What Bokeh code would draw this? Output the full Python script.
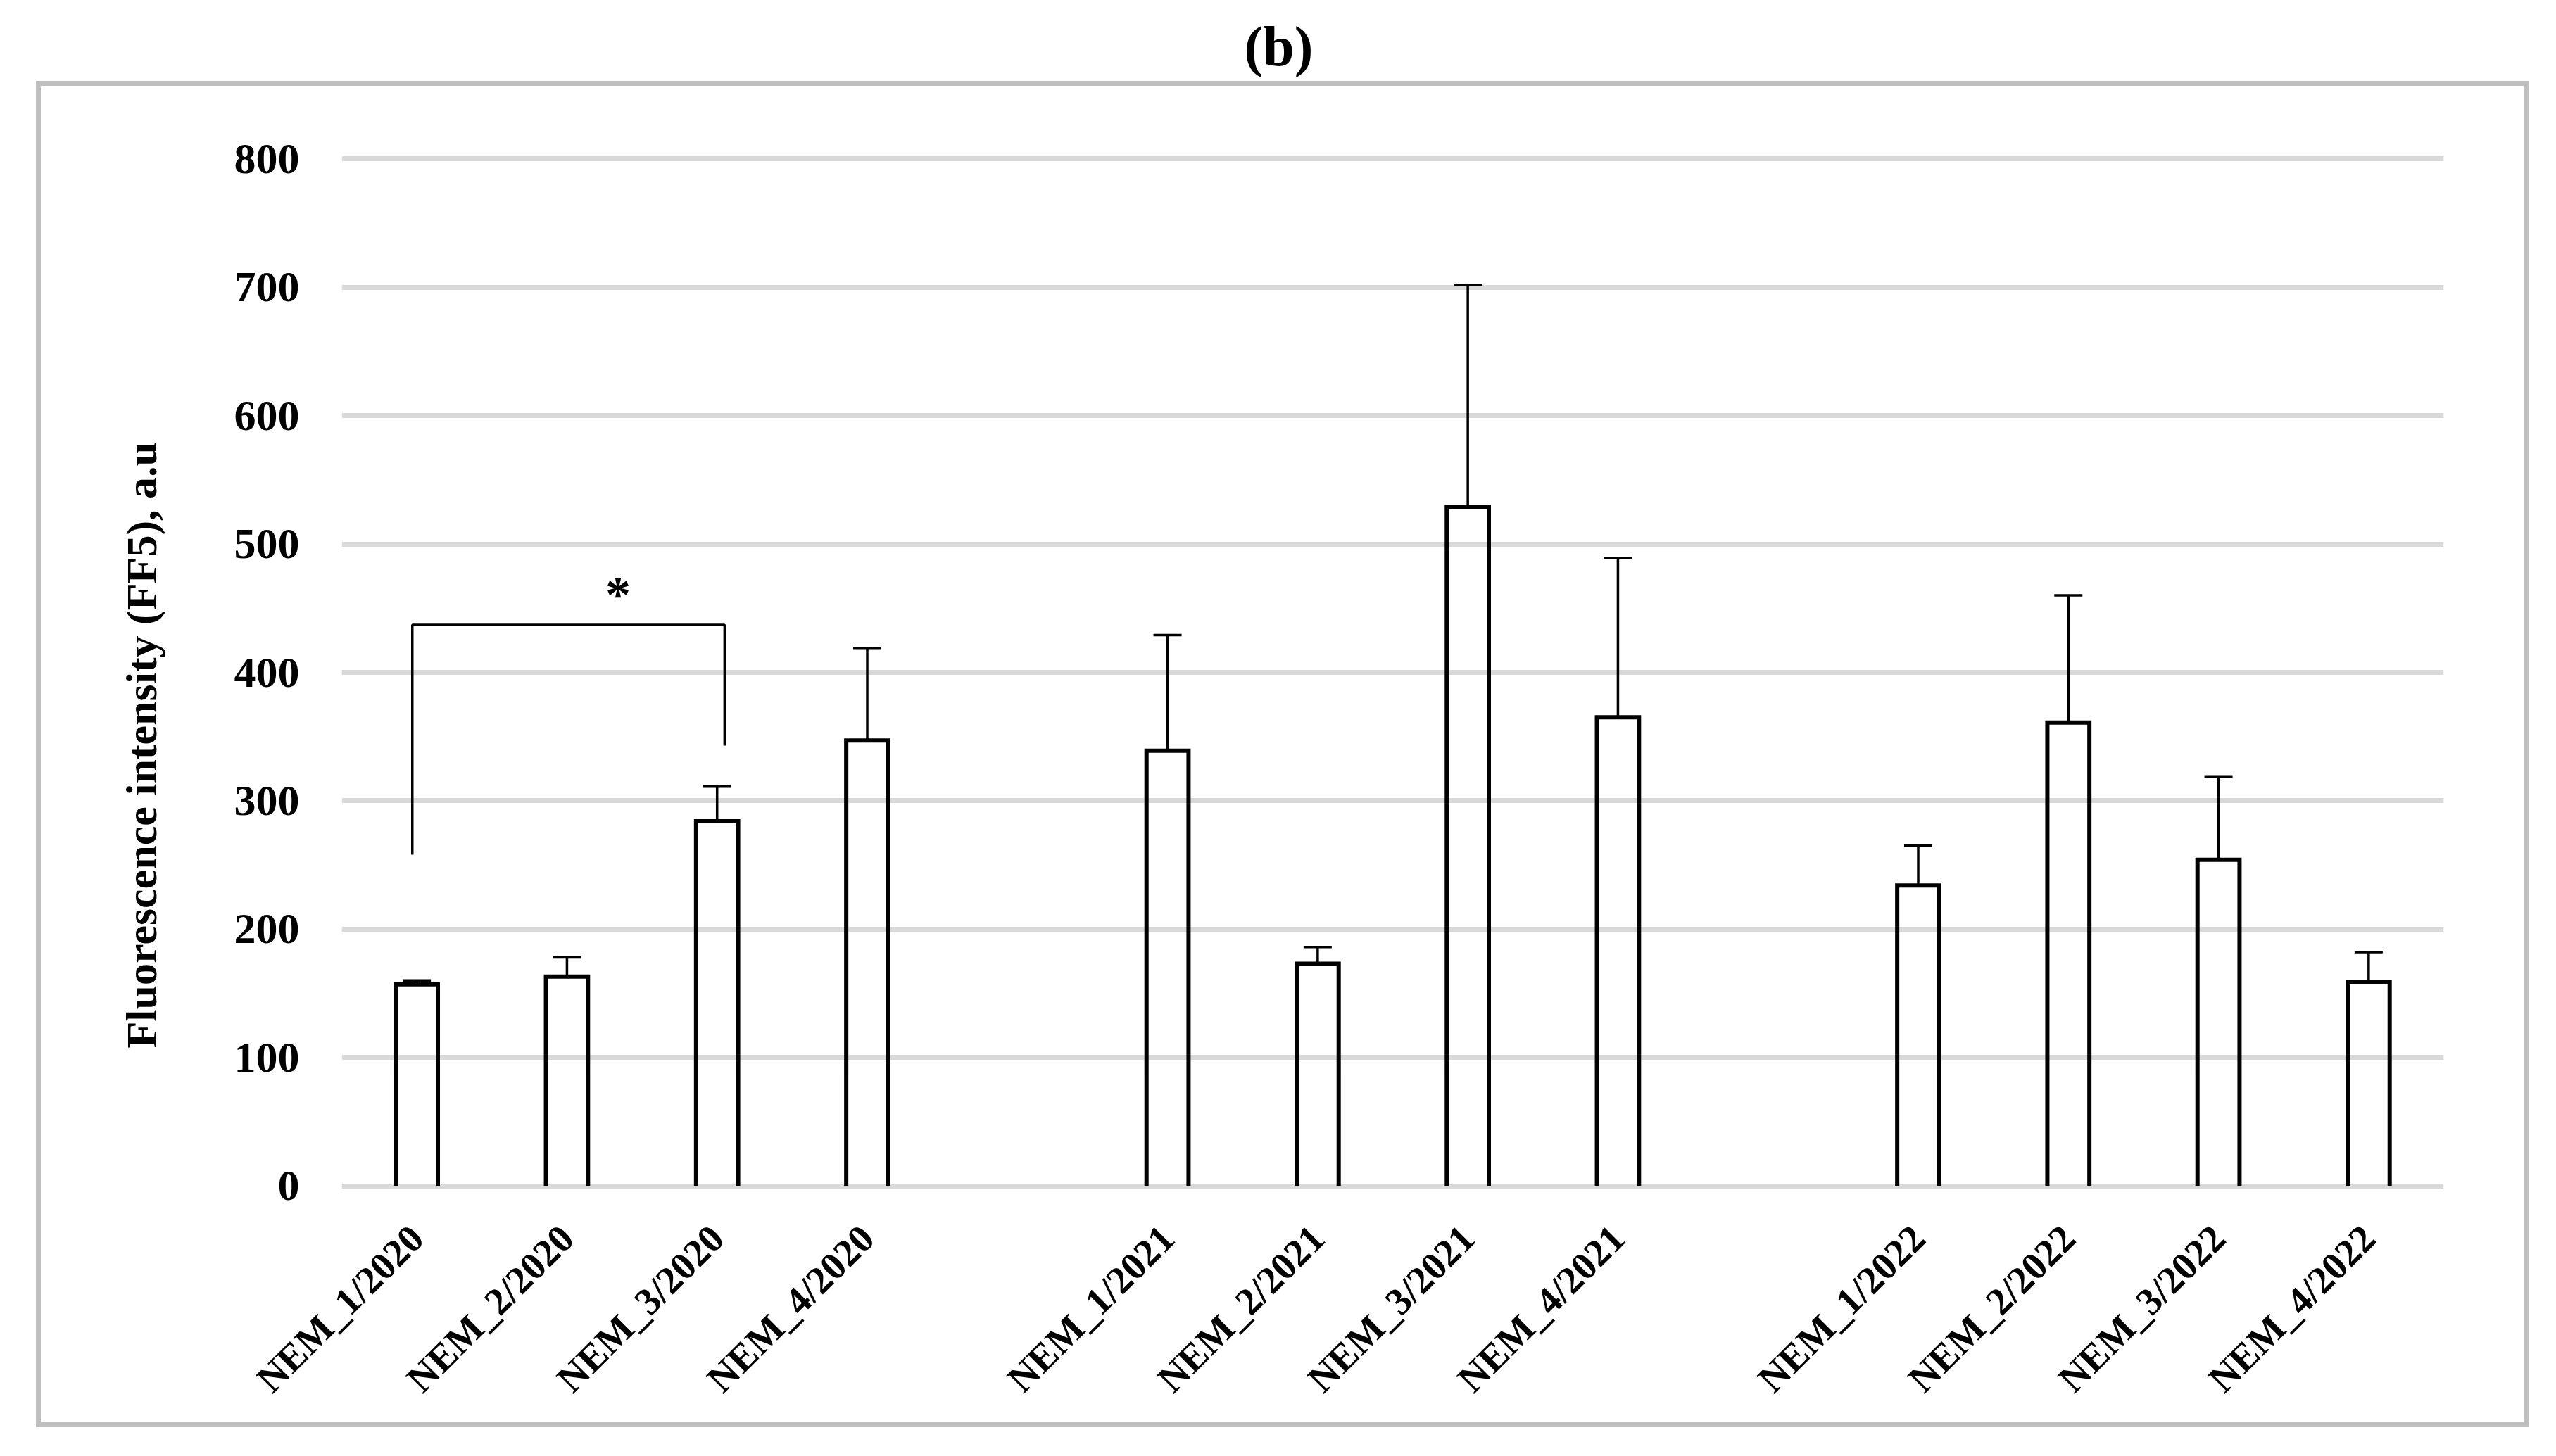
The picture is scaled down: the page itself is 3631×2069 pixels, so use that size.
import math
from bokeh.plotting import figure
from bokeh.models import (Range1d, FixedTicker, Whisker, TeeHead, ColumnDataSource, Title)
from bokeh.core.properties import value
from bokeh.embed import file_html
from bokeh.resources import INLINE

# ---------------- data ----------------
categories = ["NEM_1/2020", "NEM_2/2020", "NEM_3/2020", "NEM_4/2020",
              "NEM_1/2021", "NEM_2/2021", "NEM_3/2021", "NEM_4/2021",
              "NEM_1/2022", "NEM_2/2022", "NEM_3/2022", "NEM_4/2022"]
group_of = [0, 0, 0, 0, 1, 1, 1, 1, 2, 2, 2, 2]
means = [157, 163, 284, 347, 339, 173, 529, 365, 234, 361, 254, 159]
sds = [3, 15, 27, 72, 90, 13, 173, 124, 31, 99, 65, 23]
y_ticks = [0, 100, 200, 300, 400, 500, 600, 700, 800]

# significance bracket between NEM_1/2020 and NEM_3/2020
bracket_pair = [0, 2]
bracket_left_foot = 258
bracket_top = 437
bracket_right_foot = 343
star_level = 465
star_text = "*"

title_text = "(b)"
y_title = "Fluorescence intensity (FF5), a.u"

# ---------------- layout ----------------
FONT = "Liberation Serif"
BAR_W = 0.28
slots = [i + g for i, g in enumerate(group_of)]   # one empty slot between years
n_slots = slots[-1] + 1

FL, FT, FW, FH = 485, 220, 2986, 1470          # frame left/top/width/height (px)
W, H = 3615, 2053
FB = FT + FH
p = figure(width=W, height=H,
           x_range=Range1d(-0.5, n_slots - 0.5), y_range=Range1d(-3, 803),
           output_backend="svg", toolbar_location=None,
           min_border_left=FL, min_border_right=W - FL - FW,
           min_border_top=FT, min_border_bottom=H - FT - FH)
p.background_fill_color = "white"
p.border_fill_color = None
p.outline_line_color = None

# outer chart-area border (light grey frame around everything but the title),
# painted as the page background behind the transparent canvas margins
bx, by, bw, bh, lw = 51, 115, 3541, 1913, 7
p.styles = {
    "background-color": "white",
    "background-image": ", ".join(["linear-gradient(#bfbfbf, #bfbfbf)"] * 4),
    "background-position": f"{bx}px {by}px, {bx}px {by + bh - lw}px, {bx}px {by}px, {bx + bw - lw}px {by}px",
    "background-size": f"{bw}px {lw}px, {bw}px {lw}px, {lw}px {bh}px, {lw}px {bh}px",
    "background-repeat": "no-repeat",
}

# spacer between frame and title, then the title itself (outermost)
p.add_layout(Title(text=" ", text_font_size="1px", standoff=108), "above")
p.title.text = title_text
p.title.align = "left"
p.title.offset = 1767 - FL
p.title.standoff = 0
p.title.text_font = FONT
p.title.text_font_size = "80px"
p.title.text_font_style = "bold"
p.title.text_color = "black"

# grid
p.xgrid.visible = False
p.ygrid.ticker = FixedTicker(ticks=y_ticks)
p.ygrid.grid_line_color = "#d9d9d9"
p.ygrid.grid_line_width = 7

# bars: transparent body + three-sided black outline
src = ColumnDataSource(dict(
    x=slots, top=means, upper=[m + s for m, s in zip(means, sds)],
    name=categories))
p.vbar(x="x", top="top", bottom=0, width=BAR_W, source=src,
       fill_color=None, line_color=None)
outline_xs = [[s - BAR_W / 2, s - BAR_W / 2, s + BAR_W / 2, s + BAR_W / 2] for s in slots]
outline_ys = [[0, m, m, 0] for m in means]
p.multi_line(xs=outline_xs, ys=outline_ys, line_color="black", line_width=6,
             line_join="miter")

# error bars (upper only)
wh = Whisker(source=src, base="x", lower="top", upper="upper", dimension="height",
             line_color="black", line_width=3.5,
             upper_head=TeeHead(size=40, line_color="black", line_width=3.5),
             lower_head=None)
p.add_layout(wh)

# significance bracket
bx0 = slots[bracket_pair[0]] - 0.03
bx1 = slots[bracket_pair[1]] + 0.05
p.line(x=[bx0, bx0, bx1, bx1],
       y=[bracket_left_foot, bracket_top, bracket_top, bracket_right_foot],
       line_color="black", line_width=3.5)
star_src = ColumnDataSource(dict(x=[(slots[bracket_pair[0]] + slots[bracket_pair[1]]) / 2 + 0.34],
                                 y=[star_level], t=[star_text]))
p.text(x="x", y="y", text="t", source=star_src, text_font=value(FONT),
       text_font_style="bold", text_font_size="72px", text_align="center",
       text_baseline="middle", y_offset=8, text_color="black")

# axes
p.xaxis.ticker = FixedTicker(ticks=slots)
p.xaxis.major_label_overrides = {s: c for s, c in zip(slots, categories)}
p.xaxis.major_label_orientation = math.pi / 4
p.xaxis.major_label_standoff = 60
p.yaxis.ticker = FixedTicker(ticks=y_ticks)
p.yaxis.major_label_standoff = 60
for ax in (p.xaxis[0], p.yaxis[0]):
    ax.axis_line_color = None
    ax.major_tick_line_color = None
    ax.minor_tick_line_color = None
    ax.major_tick_out = 0
    ax.major_tick_in = 0
    ax.major_label_text_font = FONT
    ax.major_label_text_font_style = "bold"
    ax.major_label_text_color = "black"
p.xaxis.major_label_text_font_size = "55px"
p.yaxis.major_label_text_font_size = "62px"

# y-axis title, placed as a side title so it can sit below the frame centre
p.add_layout(Title(text=y_title, align="left", offset=FB - 1489, standoff=190,
                   text_font=FONT, text_font_style="bold", text_font_size="62px",
                   text_color="black"), "left")

open("out.html", "w").write(file_html(p, INLINE))
